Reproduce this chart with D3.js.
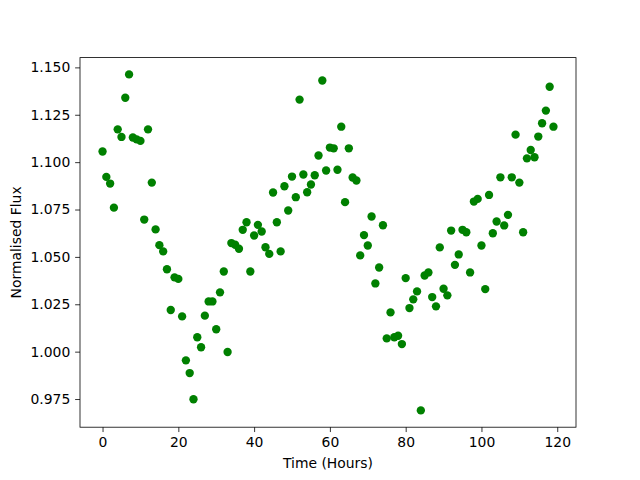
<!DOCTYPE html>
<html>
<head>
<meta charset="utf-8">
<script src="https://cdn.jsdelivr.net/npm/d3@7"></script>
<style>
  body { margin: 0; background: #fff; }
  svg { display: block; font-family: "DejaVu Sans", sans-serif; }
  .axis text { font-size: 13.9px; fill: #000; }
  .axis path, .axis line { stroke: #000; stroke-width: 0.8; }
</style>
</head>
<body>
<svg id="chart"></svg>
<script>
// hours since start of observation
var hours = d3.range(0, 120);

// normalised flux, one reading per hour
var flux = [
  1.1056, 1.0922, 1.0887, 1.0760, 1.1173, 1.1133, 1.1340, 1.1463, 1.1130, 1.1120,
  1.1112, 1.0697, 1.1173, 1.0892, 1.0645, 1.0562, 1.0529, 1.0435, 1.0220, 1.0392,
  1.0384, 1.0186, 0.9954, 0.9887, 0.9749, 1.0076, 1.0023, 1.0190, 1.0265, 1.0265,
  1.0118, 1.0313, 1.0423, 0.9998, 1.0573, 1.0564, 1.0543, 1.0643, 1.0683, 1.0423,
  1.0613, 1.0669, 1.0634, 1.0551, 1.0516, 1.0840, 1.0683, 1.0529, 1.0873, 1.0745,
  1.0924, 1.0815, 1.1330, 1.0935, 1.0841, 1.0882, 1.0931, 1.1035, 1.1431, 1.0956,
  1.1077, 1.1073, 1.0960, 1.1187, 1.0789, 1.1073, 1.0919, 1.0903, 1.0508, 1.0615,
  1.0560, 1.0713, 1.0360, 1.0444, 1.0667, 1.0070, 1.0207, 1.0076, 1.0084, 1.0040,
  1.0388, 1.0230, 1.0276, 1.0318, 0.9690, 1.0402, 1.0418, 1.0288, 1.0239, 1.0550,
  1.0332, 1.0297, 1.0639, 1.0458, 1.0513, 1.0643, 1.0630, 1.0418, 1.0792, 1.0806,
  1.0560, 1.0330, 1.0827, 1.0625, 1.0687, 1.0920, 1.0666, 1.0722, 1.0920, 1.1145,
  1.0892, 1.0630, 1.1020, 1.1064, 1.1026, 1.1135, 1.1205, 1.1272, 1.1398, 1.1187
];

var xTicks = [0, 20, 40, 60, 80, 100, 120];
var yTicks = [0.975, 1.000, 1.025, 1.050, 1.075, 1.100, 1.125, 1.150];

var width = 640, height = 480;
var margin = {top: 57.6, right: 64, bottom: 52.8, left: 80};
var tick = 4.86;

var data = hours.map(function(h, i) { return {x: h, y: flux[i]}; });

function pad(ext) {
  var d = (ext[1] - ext[0]) * 0.05;
  return [ext[0] - d, ext[1] + d];
}

var x = d3.scaleLinear()
          .domain(pad(d3.extent(hours)))
          .range([margin.left, width - margin.right]);

var y = d3.scaleLinear()
          .domain(pad(d3.extent(flux)))
          .range([height - margin.bottom, margin.top]);

var svg = d3.select("#chart")
            .attr("width", width)
            .attr("height", height);

svg.append("rect")
   .attr("width", width)
   .attr("height", height)
   .attr("fill", "#fff");

svg.append("g")
   .attr("class", "points")
   .selectAll("circle")
   .data(data)
   .enter().append("circle")
   .attr("cx", function(d) { return x(d.x); })
   .attr("cy", function(d) { return y(d.y); })
   .attr("r", 4.17)
   .attr("fill", "#008000");

// frame
svg.append("rect")
   .attr("x", margin.left)
   .attr("y", margin.top)
   .attr("width", width - margin.left - margin.right)
   .attr("height", height - margin.top - margin.bottom)
   .attr("fill", "none")
   .attr("stroke", "#000")
   .attr("stroke-width", 0.8);

var xAxis = d3.axisBottom(x)
              .tickValues(xTicks)
              .tickFormat(d3.format("d"))
              .tickSizeInner(tick)
              .tickSizeOuter(0)
              .tickPadding(tick);

var yAxis = d3.axisLeft(y)
              .tickValues(yTicks)
              .tickFormat(d3.format(".3f"))
              .tickSizeInner(tick)
              .tickSizeOuter(0)
              .tickPadding(tick);

var gx = svg.append("g")
            .attr("class", "x axis")
            .attr("transform", "translate(0," + (height - margin.bottom) + ")")
            .call(xAxis);
gx.select(".domain").remove();

var gy = svg.append("g")
            .attr("class", "y axis")
            .attr("transform", "translate(" + margin.left + ",0)")
            .call(yAxis);
gy.select(".domain").remove();

svg.selectAll(".axis text").attr("font-family", "DejaVu Sans");

svg.append("text")
   .attr("x", (margin.left + width - margin.right) / 2)
   .attr("y", 468)
   .attr("text-anchor", "middle")
   .style("font-size", "13.9px")
   .text("Time (Hours)");

svg.append("text")
   .attr("transform", "translate(21," + (margin.top + height - margin.bottom) / 2 + ") rotate(-90)")
   .attr("text-anchor", "middle")
   .style("font-size", "13.9px")
   .text("Normalised Flux");
</script>
</body>
</html>
